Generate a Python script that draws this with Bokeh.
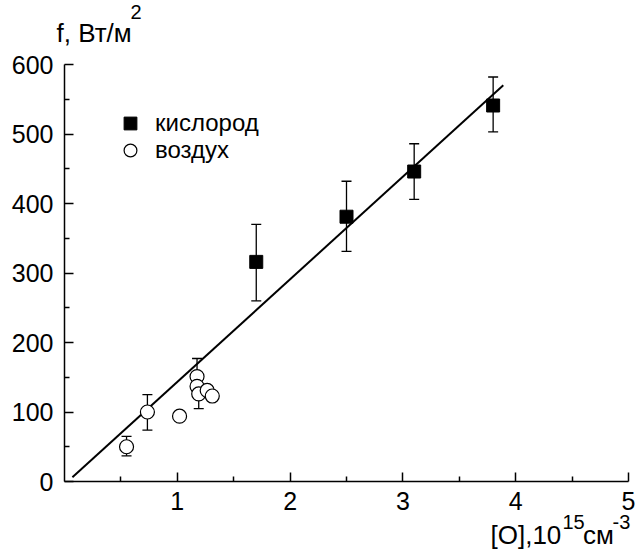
from bokeh.plotting import figure
from bokeh.models import (ColumnDataSource, Whisker, TeeHead, FixedTicker, Range1d,
                          Legend, LegendItem, Title)
from bokeh.embed import file_html
from bokeh.resources import INLINE

# ---- data ----
oxy_x = [1.7, 2.5, 3.1, 3.8]
oxy_y = [316, 381, 446, 541]
oxy_lo = [260, 331, 406, 503]
oxy_hi = [370, 432, 486, 582]

air_x = [0.55, 0.735, 1.02, 1.175, 1.175, 1.19, 1.265, 1.31]
air_y = [50, 100, 94, 151, 137, 126, 131, 123]
air_err_x = [0.55, 0.735, 1.175, 1.19]
air_err_lo = [37, 74, 126, 105]
air_err_hi = [65, 125, 177, 147]

fit_x = [0.07, 3.89]
fit_y = [6, 570]

x_ticks = [1, 2, 3, 4, 5]
x_minor = [0.5, 1.5, 2.5, 3.5, 4.5]
y_ticks = [0, 100, 200, 300, 400, 500, 600]
y_minor = [50, 150, 250, 350, 450, 550]

series_names = ["кислород", "воздух"]
NB = "\u00a0"
y_title_main, y_title_sup = "f, Вт/м", "2"
x_title_main = "[O],10" + NB * 3 + "см"
x_title_sup = "15" + NB * 5 + "-3"

FONT = "Liberation Sans"

p = figure(width=636, height=551, output_backend="svg", toolbar_location=None,
           x_range=Range1d(0, 5), y_range=Range1d(0, 600),
           min_border_left=64, min_border_right=8, min_border_top=64, min_border_bottom=70)
p.outline_line_color = None
p.grid.visible = False
p.background_fill_color = "white"

for ax in (p.xaxis[0], p.yaxis[0]):
    ax.axis_line_width = 1.5
    ax.axis_line_color = "black"
    ax.major_tick_in = 9
    ax.major_tick_out = 0
    ax.minor_tick_in = 5
    ax.minor_tick_out = 0
    ax.major_tick_line_width = 1.5
    ax.minor_tick_line_width = 1.5
    ax.major_tick_line_color = "black"
    ax.minor_tick_line_color = "black"
    ax.major_label_text_font = FONT
    ax.major_label_text_font_size = "25px"
    ax.major_label_text_color = "black"

p.xaxis.ticker = FixedTicker(ticks=x_ticks, minor_ticks=x_minor)
p.yaxis.ticker = FixedTicker(ticks=y_ticks, minor_ticks=y_minor)
p.xaxis.major_label_standoff = 10
p.yaxis.major_label_standoff = 11

# fit line
p.line(fit_x, fit_y, line_color="black", line_width=2)

# error bars
osrc = ColumnDataSource(dict(x=oxy_x, lo=oxy_lo, hi=oxy_hi))
asrc = ColumnDataSource(dict(x=air_err_x, lo=air_err_lo, hi=air_err_hi))
for src in (osrc, asrc):
    w = Whisker(source=src, base="x", lower="lo", upper="hi", dimension="height",
                line_color="black", line_width=1.3, level="underlay",
                lower_head=TeeHead(size=10, line_color="black", line_width=1.3),
                upper_head=TeeHead(size=10, line_color="black", line_width=1.3))
    p.add_layout(w)

r_oxy = p.scatter(oxy_x, oxy_y, marker="square", size=13, fill_color="black", line_color="black")
r_air = p.scatter(air_x, air_y, marker="circle", size=14, fill_color="white",
                  line_color="black", line_width=1.2)

# one legend per entry so each row can be placed exactly
for name, rend, loc in ((series_names[0], r_oxy, (50, 342)),
                        (series_names[1], r_air, (50, 315))):
    lg = Legend(items=[LegendItem(label=name, renderers=[rend])],
                location=loc, padding=0, margin=0, spacing=0,
                glyph_width=32, glyph_height=32, label_standoff=9,
                label_text_font=FONT, label_text_font_size="24px",
                label_text_color="black",
                border_line_color=None, background_fill_alpha=0)
    p.add_layout(lg)

# axis titles, with superscripts as separate (overlapping) title rows
def title(text, size, offset, standoff, valign):
    return Title(text=text, align="left", offset=offset, standoff=standoff,
                 vertical_align=valign, text_font=FONT, text_font_size=size,
                 text_font_style="normal", text_color="black")

p.add_layout(title(y_title_main, "26px", -8, 30, "top"), "above")
p.add_layout(title(y_title_sup, "20px", 66, -33.4, "bottom"), "above")
p.add_layout(title(x_title_sup, "20px", 498, -3.4, "top"), "below")
p.add_layout(title(x_title_main, "26px", 426, -26.6, "top"), "below")

open("out.html", "w").write(file_html(p, INLINE))
